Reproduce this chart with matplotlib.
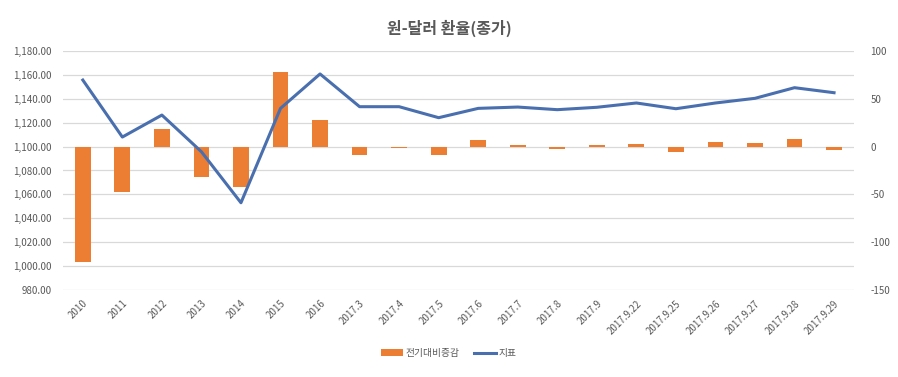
import matplotlib
matplotlib.use("Agg")
import matplotlib.pyplot as plt
import numpy as np

plt.rcParams['font.family'] = ['Noto Sans CJK KR', 'DejaVu Sans']

categories = ["2010", "2011", "2012", "2013", "2014", "2015", "2016",
              "2017.3", "2017.4", "2017.5", "2017.6", "2017.7", "2017.8", "2017.9",
              "2017.9.22", "2017.9.25", "2017.9.26", "2017.9.27", "2017.9.28", "2017.9.29"]
change = [-120.3, -47.7, 18.2, -31.7, -41.8, 78.4, 28.2,
          -9.0, -1.0, -9.0, 6.7, 1.7, -2.0, 1.7,
          3.1, -5.2, 4.9, 3.9, 8.4, -3.1]
index_vals = [1155.7, 1108.0, 1126.4, 1095.7, 1053.0, 1132.0, 1160.8,
              1133.4, 1133.4, 1124.2, 1132.0, 1133.1, 1130.9, 1132.9,
              1136.5, 1131.7, 1136.5, 1140.4, 1149.3, 1145.1]
left_ticks = [980, 1000, 1020, 1040, 1060, 1080, 1100, 1120, 1140, 1160, 1180]
right_ticks = [-150, -100, -50, 0, 50, 100]
right_grid = [-150, -125, -100, -75, -50, -25, 0, 25, 50, 75, 100]

title = "원-달러 환율(종가)"
bar_label = "전기대비증감"
line_label = "지표"

gray = "#595959"
fig = plt.figure(figsize=(8.98, 3.77), dpi=100)
ax = fig.add_axes([0.0702, 0.2308, 0.8806, 0.6339])
ax2 = ax.twinx()

x = np.arange(len(categories))
# bars on secondary (right) axis, above the gridlines
ax2.bar(x, change, width=0.4, color="#EB7E32", label=bar_label, zorder=2)
ax2.set_ylim(-150, 100)
ax2.set_yticks(right_ticks)
ax2.set_yticklabels([f"{v}" for v in right_ticks])
ax2.set_yticks(right_grid, minor=True)
ax2.grid(axis='y', which='both', color="#D9D9D9", lw=0.9, zorder=0)
ax2.set_axisbelow(True)

# line on primary (left) axis, drawn above bars
ax.plot(x, index_vals, color="#4A6FAF", lw=2.2, label=line_label, zorder=3)
ax.set_ylim(980, 1180)
ax.set_yticks(left_ticks)
ax.set_yticklabels([f"{v:,.2f}" for v in left_ticks])
ax.set_xlim(-0.5, len(categories) - 0.5)
ax.set_xticks(x)
ax.set_xticklabels(categories, rotation=45, ha='right', rotation_mode='anchor')

# put line axis above bar axis
ax.set_zorder(ax2.get_zorder() + 1)
ax.patch.set_visible(False)

for a in (ax, ax2):
    for s in a.spines.values():
        s.set_visible(False)
    a.tick_params(which='both', length=0, colors=gray, labelsize=7)
ax.tick_params(axis='y', pad=8)
ax2.tick_params(axis='y', pad=12)
ax.tick_params(axis='x', pad=6)

fig.text(0.5, 1 - 28 / 377, title, ha='center', va='center', fontsize=11.5,
         color=gray, fontweight='bold')

h1, l1 = ax2.get_legend_handles_labels()
h2, l2 = ax.get_legend_handles_labels()
leg = fig.legend(h1 + h2, l1 + l2, loc='center', bbox_to_anchor=(0.5, 1 - 353 / 377),
                 ncol=2, frameon=False, fontsize=7, handlelength=2.2,
                 handleheight=0.6, columnspacing=1.5, handletextpad=0.3)
for t in leg.get_texts():
    t.set_color(gray)

fig.savefig("out.png", dpi=100, facecolor="white")
